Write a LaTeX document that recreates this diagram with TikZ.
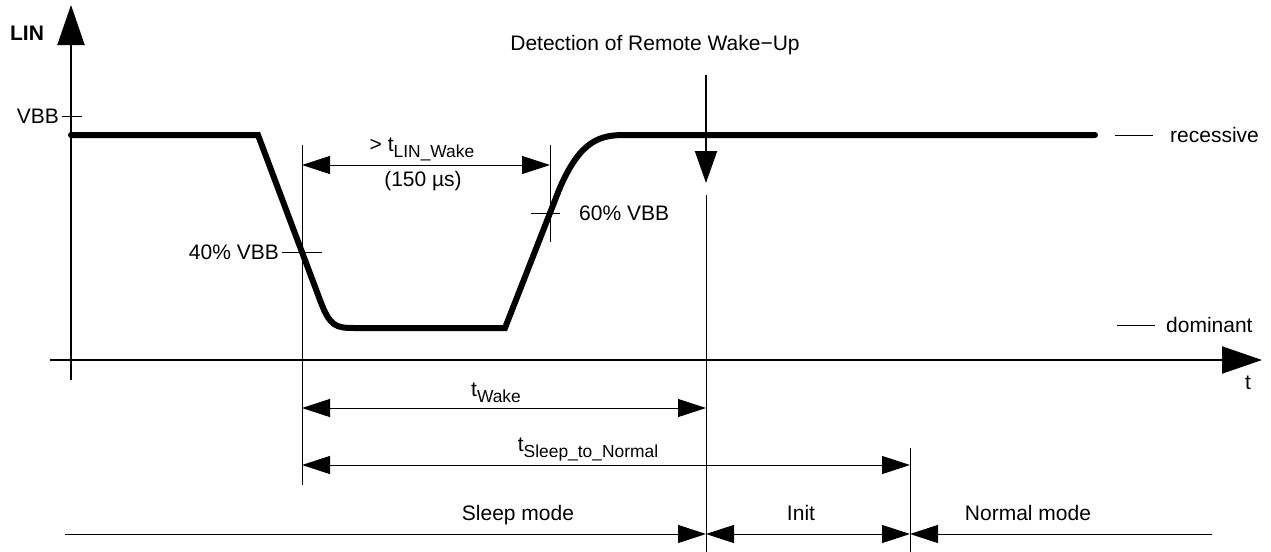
\documentclass[tikz,border=0pt]{standalone}
\usepackage{fontspec}
\setmainfont{Liberation Sans}
\usetikzlibrary{arrows.meta}
\newcommand{\tsub}[1]{\raisebox{-3pt}{\fontsize{8.7}{10}\selectfont #1}}
\begin{document}
\begin{tikzpicture}[x=0.5pt, y=-0.5pt,
			>={Triangle[length=14pt,width=9pt]},   %Pfeilspitzen
			achse/.style={line width=1pt, -{Triangle[length=20pt,width=13.5pt]}},
			duenn/.style={line width=0.5pt},
			mass/.style={line width=0.5pt, <->},
			signal/.style={line width=3pt, line cap=round},
			font=\fontsize{10.5}{12}\selectfont]
			\useasboundingbox (0,0) rectangle (1271,552);
			% Achsen zeichnen
			\draw[achse] (71,380) -- (71,5);
			\draw[achse] (50,360) -- (1262,360);
			\node[font=\fontsize{10.5}{12}\bfseries\selectfont] (lin) at (27,33) {LIN};
			\node (tt) at (1248,383) {t};
			% Pegel
			\draw[duenn] (62,116) -- (82,116) node[pos=0, left=-2pt] (vbb) {VBB};
			\draw[duenn] (1115,135) -- (1153,135) node[right=5pt] (rez) {recessive};
			\draw[duenn] (1117,325) -- (1155,325) node[right=2pt] (dom) {dominant};
			% Signal zeichnen
			\draw[signal] (71,135) -- (258,135) -- (320,300) .. controls (330,327) and (336,328) .. (355,328)
			  -- (505,328) -- (559,190) .. controls (580,140) and (600,135) .. (625,135) -- (1095,135);
			% Schwellen
			\draw[duenn] (282,252) -- (322,252) node[pos=0, left=-2pt] (p40) {40\% VBB};
			\draw[duenn] (531,213) -- (560,213) node[right=6pt] (p60) {60\% VBB};
			% Hilfslinien
			\draw[duenn] (302,145) -- (302,485);
			\draw[duenn] (550,145) -- (550,242);
			\draw[duenn] (706,195) -- (706,552);
			\draw[duenn] (910,448) -- (910,552);
			% Remote Wake-Up
			\node (det) at (655,45) {Detection of Remote Wake−Up};
			\coordinate (d1) at (706,75);
			\coordinate (d2) at (706,183);
			\draw[line width=1pt, -{Triangle[length=16pt,width=11pt]}] (d1) -- (d2);
			% Zeiten
			\coordinate (w1) at (302,165);
			\coordinate (w2) at (550,165);
			\draw[mass] (w1) -- (w2);
			\node (tlw) at (422,149) {> t\tsub{LIN\_Wake}};
			\node (us) at (423,181) {(150 µs)};
			\coordinate (k1) at (302,408);
			\coordinate (k2) at (706,408);
			\draw[mass] (k1) -- (k2);
			\node (tw) at (496,393) {t\tsub{Wake}};
			\coordinate (n1) at (302,465);
			\coordinate (n2) at (910,465);
			\draw[mass] (n1) -- (n2);
			\node (tsn) at (588,450) {t\tsub{Sleep\_to\_Normal}};
			% Betriebsarten
			\coordinate (m0) at (65,534);
			\coordinate (m1) at (706,534);
			\coordinate (m2) at (910,534);
			\coordinate (m3) at (1212,534);
			\draw[duenn, ->] (m0) -- (m1);
			\draw[mass] (m1) -- (m2);
			\draw[duenn, <-] (m2) -- (m3);
			\node[anchor=base] (sleep) at (518,520) {Sleep mode};
			\node[anchor=base] (init) at (801,520) {Init};
			\node[anchor=base] (norm) at (1028,520) {Normal mode};
		\end{tikzpicture}
\end{document}
